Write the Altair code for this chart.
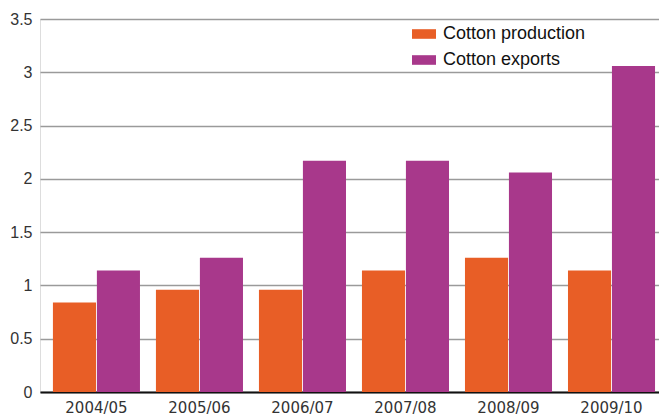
import altair as alt
import pandas as pd

# Marketing years and the two cotton series (million tonnes)
years = ["2004/05", "2005/06", "2006/07", "2007/08", "2008/09", "2009/10"]
production = [0.84, 0.96, 0.96, 1.14, 1.26, 1.14]
exports = [1.14, 1.26, 2.17, 2.17, 2.06, 3.06]
series = ["Cotton production", "Cotton exports"]
colors = ["#E85E26", "#A8388B"]

rows = []
for i, y in enumerate(years):
    rows.append({"year": y, "series": series[0], "value": production[i]})
    rows.append({"year": y, "series": series[1], "value": exports[i]})
df = pd.DataFrame(rows)

font = "Liberation Sans"

bars = alt.Chart(df).mark_bar().encode(
    x=alt.X(
        "year:N",
        sort=years,
        title=None,
        scale=alt.Scale(paddingInner=0.155, paddingOuter=0.082, align=0.765),
        axis=alt.Axis(
            labelAngle=0,
            ticks=False,
            domain=True,
            domainColor="#111111",
            domainWidth=2,
            labelFont="DejaVu Sans",
            labelFontSize=15,
            labelColor="#333333",
            labelPadding=8,
            grid=False,
        ),
    ),
    xOffset=alt.XOffset(
        "series:N", sort=series, scale=alt.Scale(paddingInner=0.02)
    ),
    y=alt.Y(
        "value:Q",
        title=None,
        scale=alt.Scale(domain=[0, 3.5], nice=False, zero=True),
        axis=alt.Axis(
            values=[0, 0.5, 1, 1.5, 2, 2.5, 3, 3.5],
            format="~g",
            domain=False,
            ticks=False,
            grid=True,
            gridColor="#9a9a9a",
            gridWidth=1.3,
            labelFont=font,
            labelFontSize=16,
            labelColor="#333333",
            labelPadding=8,
        ),
    ),
    color=alt.Color(
        "series:N",
        sort=series,
        scale=alt.Scale(domain=series, range=colors),
        legend=alt.Legend(
            title=None,
            orient="none",
            legendX=372,
            legendY=3,
            symbolType="M-1,-0.4H1V0.4H-1Z",
            symbolSize=576,
            symbolStrokeWidth=0,
            labelFont=font,
            labelFontSize=18,
            labelColor="#111111",
            rowPadding=5,
            labelOffset=7,
        ),
    ),
)

chart = bars.properties(
    width=619,
    height=373,
    autosize=alt.AutoSizeParams(type="none"),
    padding={"left": 40, "top": 19, "right": 0, "bottom": 25},
).configure_view(stroke=None).configure(background="white")

chart.save("out.html", embed_options={"renderer": "svg", "actions": False})
